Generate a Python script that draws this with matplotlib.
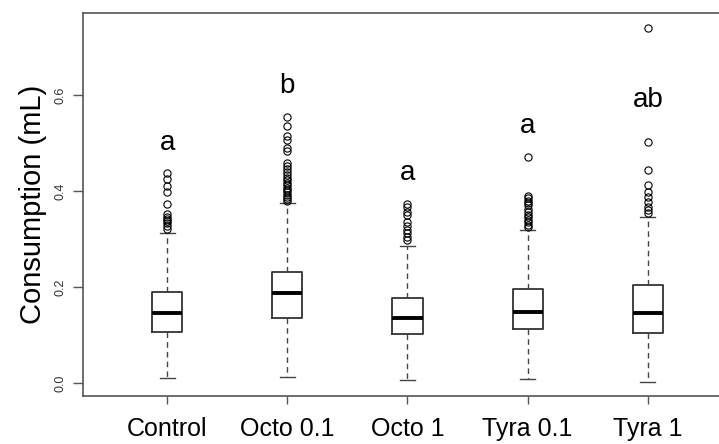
import numpy as np
import matplotlib
matplotlib.use('Agg')
import matplotlib.pyplot as plt

plt.rcParams['font.family'] = ['Liberation Sans', 'DejaVu Sans']

groups = ['Control', 'Octo 0.1', 'Octo 1', 'Tyra 0.1', 'Tyra 1']
medians = [0.146, 0.1875, 0.135, 0.148, 0.146]
q1 = [0.106, 0.135, 0.102, 0.1125, 0.104]
q3 = [0.190, 0.231, 0.177, 0.196, 0.204]
whisker_low = [0.010, 0.0125, 0.006, 0.008, 0.002]
whisker_high = [0.3125, 0.375, 0.286, 0.319, 0.346]

outliers_control = [0.437, 0.425, 0.411, 0.397, 0.373, 0.352, 0.346, 0.341, 0.337, 0.333, 0.327, 0.321]
outliers_octo01 = [0.554, 0.535, 0.515, 0.506, 0.490, 0.483, 0.458, 0.452, 0.446, 0.440, 0.434, 0.428,
                   0.422, 0.417, 0.412, 0.407, 0.402, 0.397, 0.392, 0.388, 0.384, 0.380]
outliers_octo1 = [0.372, 0.366, 0.357, 0.349, 0.336, 0.328, 0.318, 0.312, 0.305, 0.298]
outliers_tyra01 = [0.471, 0.390, 0.385, 0.380, 0.375, 0.370, 0.362, 0.356, 0.350, 0.345, 0.340,
                   0.335, 0.330, 0.325]
outliers_tyra1 = [0.740, 0.502, 0.444, 0.4125, 0.398, 0.3875, 0.377, 0.367, 0.360, 0.354]
outliers = [outliers_control, outliers_octo01, outliers_octo1, outliers_tyra01, outliers_tyra1]

letters = ['a', 'b', 'a', 'a', 'ab']
letter_y = [0.485, 0.604, 0.423, 0.521, 0.575]

stats = []
for i in range(len(groups)):
    stats.append({'med': medians[i], 'q1': q1[i], 'q3': q3[i],
                  'whislo': whisker_low[i], 'whishi': whisker_high[i],
                  'fliers': np.array(outliers[i]), 'label': groups[i]})

fig = plt.figure(figsize=(7.19, 4.44), dpi=100)
ax = fig.add_axes([83 / 719, 48 / 444, 649 / 719, 383 / 444])

ax.bxp(stats, positions=range(1, 6), widths=0.25, patch_artist=False,
       boxprops=dict(color='#333333', linewidth=1.3),
       medianprops=dict(color='black', linewidth=2.8),
       whiskerprops=dict(color='#444444', linewidth=1.0, linestyle=(0, (4, 3))),
       capprops=dict(color='#444444', linewidth=1.0),
       capwidths=0.125,
       flierprops=dict(marker='o', markersize=5.2, markerfacecolor='none',
                       markeredgecolor='black', markeredgewidth=0.8))

for i, (txt, y) in enumerate(zip(letters, letter_y)):
    ax.text(i + 1, y, txt, ha='center', va='baseline', fontsize=20)

ax.set_xlim(0.3, 5.7)
ax.set_ylim(-0.0271, 0.7708)
ax.set_yticks([0.0, 0.2, 0.4, 0.6])
ax.set_yticklabels(['0.0', '0.2', '0.4', '0.6'], rotation=90, va='center', fontsize=9,
                   color='#333333')
ax.set_xticks(range(1, 6))
ax.set_xticklabels(groups, fontsize=18)
ax.tick_params(axis='y', length=7, width=1.0, color='#555555', pad=5)
ax.tick_params(axis='x', length=6, width=1.0, color='#555555', pad=9)
ax.set_ylabel('Consumption (mL)', fontsize=21, labelpad=5)

ax.spines['right'].set_visible(False)
for s in ['left', 'top', 'bottom']:
    ax.spines[s].set_color('#555555')
    ax.spines[s].set_linewidth(1.2)

fig.savefig('out.png', dpi=100)
